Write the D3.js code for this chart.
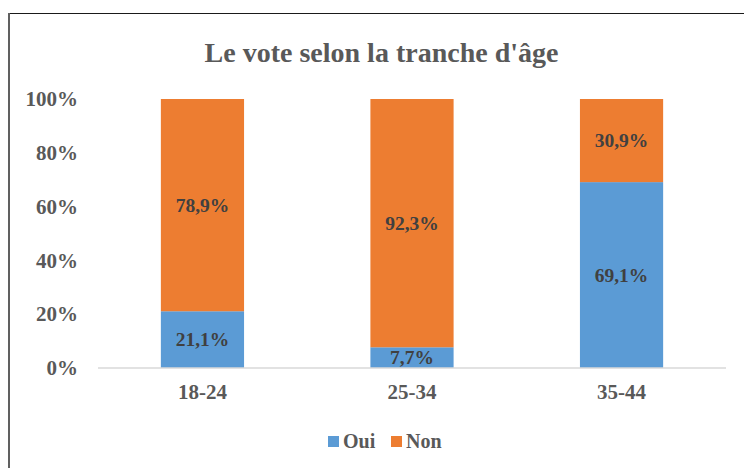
<!DOCTYPE html>
<html>
<head>
<meta charset="utf-8">
<script src="https://cdn.jsdelivr.net/npm/d3@7"></script>
<style>
  html, body { margin: 0; padding: 0; background: #fff; }
  svg { display: block; }
  text { font-family: "Liberation Serif", "Times New Roman", serif; font-weight: bold; }
</style>
</head>
<body>
<script>
// Age groups and the share of each answer (percent)
const categories = ["18-24", "25-34", "35-44"];
const seriesNames = ["Oui", "Non"];
const oui = [21.1, 7.7, 69.1];
const non = [78.9, 92.3, 30.9];
const yTicks = [0, 20, 40, 60, 80, 100];
const title = "Le vote selon la tranche d'âge";

const colors = { Oui: "#5B9BD5", Non: "#ED7D31" };
const W = 744, H = 468;
const plot = { left: 98, right: 726, top: 99, bottom: 368 };

const svg = d3.select("body").append("svg").attr("width", W).attr("height", H);

// chart frame
svg.append("line").attr("x1", 8).attr("x2", W).attr("y1", 13.5).attr("y2", 13.5)
  .attr("stroke", "#1a1a1a").attr("stroke-width", 1);
svg.append("line").attr("x1", 9).attr("x2", 9).attr("y1", 13).attr("y2", H)
  .attr("stroke", "#606060").attr("stroke-width", 2);

svg.append("text").attr("x", 381.5).attr("y", 62).attr("text-anchor", "middle")
  .attr("font-size", 28).attr("fill", "#595959").text(title);

const x = d3.scaleBand().domain(categories).range([plot.left, plot.right]).paddingInner(0.603).paddingOuter(0.3);
const y = d3.scaleLinear().domain([0, 100]).range([plot.bottom, plot.top]);

const rows = categories.map((c, i) => ({ cat: c, Oui: oui[i], Non: non[i] }));
const stacked = d3.stack().keys(seriesNames)(rows);

const fmt = v => d3.format(".1f")(v).replace(".", ",") + "%";

stacked.forEach(layer => {
  const g = svg.append("g");
  g.selectAll("rect").data(layer).join("rect")
    .attr("x", d => x(d.data.cat))
    .attr("width", x.bandwidth())
    .attr("y", d => y(d[1]))
    .attr("height", d => y(d[0]) - y(d[1]))
    .attr("fill", colors[layer.key]);
  g.selectAll("text").data(layer).join("text")
    .attr("x", d => x(d.data.cat) + x.bandwidth() / 2)
    .attr("y", d => (y(d[0]) + y(d[1])) / 2)
    .attr("dy", "0.35em")
    .attr("text-anchor", "middle")
    .attr("font-size", 19.5)
    .attr("fill", "#404040")
    .text(d => fmt(d.data[layer.key]));
});

// y axis labels
const yAxis = d3.axisLeft(y).tickValues(yTicks).tickFormat(d => d + "%").tickSize(0).tickPadding(20);
const ya = svg.append("g").attr("transform", `translate(${plot.left},0)`).call(yAxis);
ya.select(".domain").remove();
ya.selectAll("text").attr("font-size", 21).attr("fill", "#595959")
  .attr("font-family", "'Liberation Serif', 'Times New Roman', serif");

// x axis
const xAxis = d3.axisBottom(x).tickSize(0).tickPadding(16);
const xa = svg.append("g").attr("transform", `translate(0,${plot.bottom})`).call(xAxis);
xa.select(".domain").attr("stroke", "#d9d9d9").attr("stroke-width", 1.5)
  .attr("d", `M${plot.left},0H${plot.right}`);
xa.selectAll("text").attr("font-size", 21).attr("fill", "#595959")
  .attr("font-family", "'Liberation Serif', 'Times New Roman', serif");

// legend
const legend = svg.append("g");
const legendPos = [328, 391];
seriesNames.forEach((s, i) => {
  legend.append("rect").attr("x", legendPos[i]).attr("y", 436).attr("width", 11).attr("height", 11).attr("fill", colors[s]);
  legend.append("text").attr("x", legendPos[i] + 15).attr("y", 448)
    .attr("font-size", 20).attr("fill", "#595959").text(s);
});
</script>
</body>
</html>
